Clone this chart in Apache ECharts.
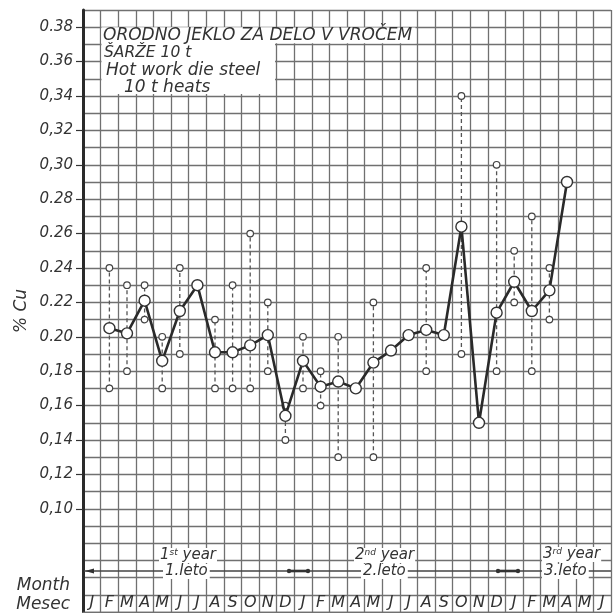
<!DOCTYPE html>
<html><head><meta charset="utf-8">
<script src="https://cdn.jsdelivr.net/npm/echarts@6/dist/echarts.min.js"></script>
<style>html,body{margin:0;padding:0;background:#fff}#c{width:616px;height:613px}</style>
</head><body><div id="c"></div>
<script>
// ---- data ----
const months = ['J','F','M','A','M','J','J','A','S','O','N','D',
                'J','F','M','A','M','J','J','A','S','O','N','D',
                'J','F','M','A','M','J'];
const meanCu = [null,0.205,0.202,0.221,0.186,0.215,0.230,0.191,0.191,0.195,0.201,0.154,
                0.186,0.171,0.174,0.170,0.185,0.192,0.201,0.204,0.201,0.264,0.150,0.214,
                0.232,0.215,0.227,0.290,null,null];
const minCu  = [null,0.17,0.18,0.21,0.17,0.19,null,0.17,0.17,0.17,0.18,0.14,
                0.17,0.16,0.13,null,0.13,null,null,0.18,null,0.19,null,0.18,
                0.22,0.18,0.21,null,null,null];
const maxCu  = [null,0.24,0.23,0.23,0.20,0.24,null,0.21,0.23,0.26,0.22,0.16,
                0.20,0.18,0.20,null,0.22,null,null,0.24,null,0.34,null,0.30,
                0.25,0.27,0.24,null,null,null];
const yTickValues = [0.10,0.12,0.14,0.16,0.18,0.20,0.22,0.24,0.26,0.28,0.30,0.32,0.34,0.36,0.38];
const yTickLabels = ['0,10','0,12','0,14','0,16','0,18','0.20','0.22','0.24','0.26','0.28','0,30','0,32','0,34','0.36','0.38'];
const titleLines = ['ORODNO JEKLO ZA DELO V VROČEM','ŠARŽE 10 t','Hot work die steel','10 t heats'];
const yearLabels = [['1','st','1.leto'],['2','nd','2.leto'],['3','rd','3.leto']];
const axisTitle = '% Cu';
const rowTitles = ['Month','Mesec'];

// ---- chart ----
const FONT = '"DejaVu Sans", sans-serif';
const INK = '#333';
const GRIDC = '#707070';
const rangeData = [];
months.forEach((m,i)=>{ if(minCu[i]!=null && maxCu[i]!=null) rangeData.push([i,minCu[i],maxCu[i]]); });
const labelMap = {};
yTickValues.forEach((v,i)=>{ labelMap[Math.round(v*100)] = yTickLabels[i]; });

const chart = echarts.init(document.getElementById('c'), null, {renderer:'canvas'});
const textEl = (txt, x, y, size, align) => ({
  type:'text', z:60,
  style:{text:txt, x:x, y:y, font:'italic '+size+'px '+FONT, fill:INK, align:align||'left'}
});

const graphics = [
  {type:'rect', z:50, shape:{x:101.5,y:27.5,width:314,height:15.8}, style:{fill:'#fff'}},
  {type:'rect', z:50, shape:{x:101.5,y:27.5,width:173.5,height:66.5}, style:{fill:'#fff'}},
  textEl(titleLines[0], 103, 27, 17),
  textEl(titleLines[1], 104, 45, 15.5),
  textEl(titleLines[2], 106, 62, 17),
  textEl(titleLines[3], 124, 79, 17),
  textEl(rowTitles[0], 70, 577, 17, 'right'),
  textEl(rowTitles[1], 70, 596, 17, 'right'),
  // year arrow line
  {type:'line', z:40, shape:{x1:84,y1:571,x2:611,y2:571}, style:{stroke:'#444',lineWidth:1.4}},
  {type:'polygon', z:41, shape:{points:[[85,571],[94,568.5],[94,573.5]]}, style:{fill:'#333'}},
  {type:'line', z:41, shape:{x1:288,y1:571,x2:309,y2:571}, style:{stroke:'#333',lineWidth:2.6}},
  {type:'circle', z:41, shape:{cx:289,cy:571,r:2.2}, style:{fill:'#333'}},
  {type:'circle', z:41, shape:{cx:308,cy:571,r:2.2}, style:{fill:'#333'}},
  {type:'line', z:41, shape:{x1:497,y1:571,x2:519,y2:571}, style:{stroke:'#333',lineWidth:2.6}},
  {type:'circle', z:41, shape:{cx:498,cy:571,r:2.2}, style:{fill:'#333'}},
  {type:'circle', z:41, shape:{cx:518,cy:571,r:2.2}, style:{fill:'#333'}}
];
const yearPos = [[159,548,163,564],[354,548,361,564],[542,547,542,564]];
yearLabels.forEach((yl,i)=>{
  const p = yearPos[i];
  graphics.push({type:'text', z:60, style:{
    text: yl[0]+'{s|'+yl[1]+'}{n| year}', x:p[0], y:p[1], font:'italic 15px '+FONT, fill:INK,
    backgroundColor:'#fff', padding:[0,1,0,1],
    rich:{s:{font:'italic 9px '+FONT, fill:INK, verticalAlign:'top', padding:[0,0,6,0]}, n:{font:'italic 15px '+FONT, fill:INK}}
  }});
  graphics.push({type:'text', z:60, style:{
    text: yl[2], x:p[2], y:p[3], font:'italic 15px '+FONT, fill:INK, backgroundColor:'#fff', padding:[0,2,0,2]
  }});
});

chart.setOption({
  animation:false,
  backgroundColor:'#fff',
  grid:{left:83, right:5, top:10, bottom:1},
  xAxis:[{
    type:'category', data:months, boundaryGap:true, position:'bottom',
    axisLine:{show:true, lineStyle:{color:GRIDC,width:1.3}},
    axisTick:{show:false},
    axisLabel:{show:true, inside:true, interval:0, margin:1, color:INK, fontFamily:FONT, fontStyle:'italic', fontSize:16},
    splitLine:{show:true, interval:0, lineStyle:{color:GRIDC,width:1.3}}
  }],
  yAxis:[{
    type:'value', min:0.04, max:0.39, interval:0.01,
    axisLine:{show:true, lineStyle:{color:'#2a2a2a',width:3}},
    axisTick:{show:false}, axisLabel:{show:false},
    splitLine:{show:true, lineStyle:{color:GRIDC,width:1.3}},
    name:axisTitle, nameLocation:'middle', nameGap:53, nameRotate:90,
    nameTextStyle:{color:INK, fontFamily:FONT, fontStyle:'italic', fontSize:17}
  },{
    type:'value', min:0.04, max:0.39, interval:0.01, position:'left', offset:0,
    axisLine:{show:false}, splitLine:{show:false},
    axisTick:{show:true, length:7, customValues:yTickValues, lineStyle:{color:'#333',width:1.2}},
    axisLabel:{show:true, margin:10, customValues:yTickValues, color:INK, fontFamily:FONT, fontStyle:'italic', fontSize:15,
      formatter:v=>labelMap[Math.round(v*100)]||''}
  }],
  graphic:{elements:graphics},
  series:[{
    type:'custom', xAxisIndex:0, yAxisIndex:0, z:3,
    data:rangeData,
    renderItem:(params, api)=>{
      const lo = api.coord([api.value(0), api.value(1)]);
      const hi = api.coord([api.value(0), api.value(2)]);
      return {type:'group', children:[
        {type:'line', shape:{x1:lo[0],y1:lo[1],x2:hi[0],y2:hi[1]}, style:{stroke:'#555',lineWidth:1.3,lineDash:[4,3]}},
        {type:'circle', shape:{cx:lo[0],cy:lo[1],r:3.3}, style:{fill:'#fff',stroke:'#444',lineWidth:1.2}},
        {type:'circle', shape:{cx:hi[0],cy:hi[1],r:3.3}, style:{fill:'#fff',stroke:'#444',lineWidth:1.2}}
      ]};
    }
  },{
    type:'line', xAxisIndex:0, yAxisIndex:0, z:5,
    data:meanCu, connectNulls:false,
    lineStyle:{color:'#2a2a2a', width:2.6},
    symbol:'circle', symbolSize:11, showSymbol:true,
    itemStyle:{color:'#fff', borderColor:'#333', borderWidth:1.4}
  }]
});
</script>
</body></html>
